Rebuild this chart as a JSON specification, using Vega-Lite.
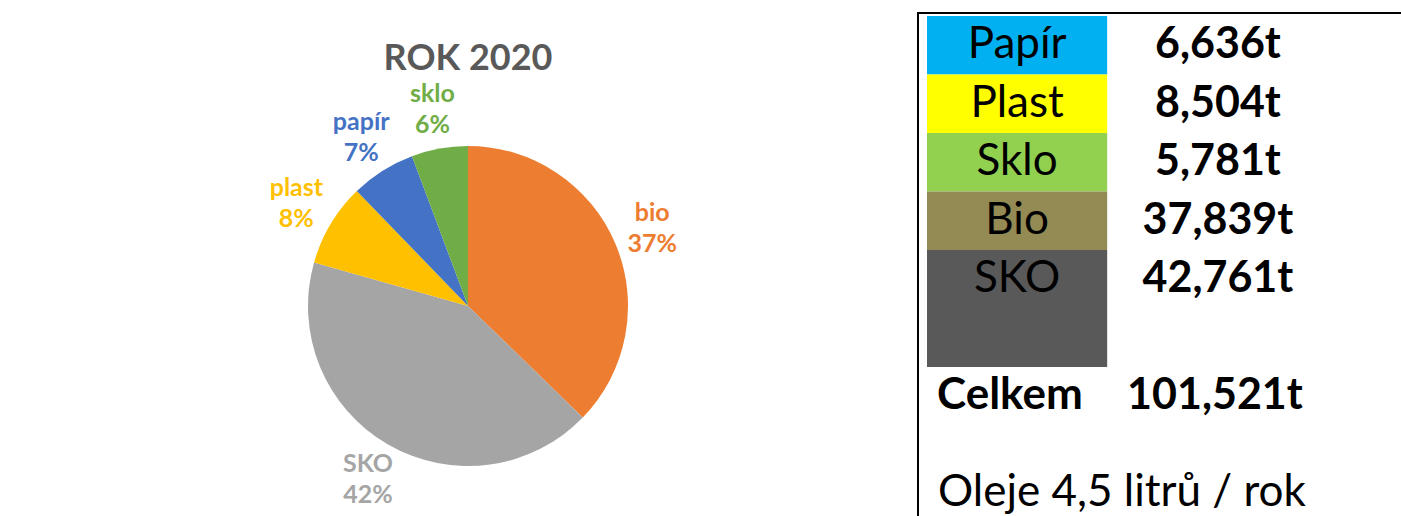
{
  "$schema": "https://vega.github.io/schema/vega-lite/v6.json",
  "padding": {"left": 19, "top": 12, "right": 0, "bottom": 0},
  "background": "white",
  "spacing": 0,
  "config": {
    "view": {"stroke": null},
    "font": "Lato",
    "locale": {"number": {"decimal": ",", "thousands": " ", "grouping": [3], "currency": ["", "t"]}}
  },
  "resolve": {"scale": {"color": "independent", "x": "independent", "y": "independent"}},
  "hconcat": [
    {
      "vconcat": [
        {
          "width": 898,
          "height": 82,
          "data": {"values": [{"nazev": "ROK 2020"}]},
          "mark": {"type": "text", "fontSize": 36, "fontWeight": "bold", "color": "#595959", "baseline": "middle", "dy": 5},
          "encoding": {"text": {"field": "nazev", "type": "nominal"}}
        },
        {
          "width": 898,
          "height": 422,
          "data": {
            "values": [
              {"druh": "bio", "tuny": 37.839, "podil": 0.37, "poradi": 1},
              {"druh": "SKO", "tuny": 42.761, "podil": 0.42, "poradi": 2},
              {"druh": "plast", "tuny": 8.504, "podil": 0.08, "poradi": 3},
              {"druh": "papír", "tuny": 6.636, "podil": 0.07, "poradi": 4},
              {"druh": "sklo", "tuny": 5.781, "podil": 0.06, "poradi": 5}
            ]
          },
          "encoding": {
            "theta": {"field": "tuny", "type": "quantitative", "stack": true},
            "order": {"field": "poradi", "type": "quantitative"},
            "color": {
              "field": "druh",
              "type": "nominal",
              "scale": {
                "domain": ["bio", "SKO", "plast", "papír", "sklo"],
                "range": ["#ED7D31", "#A5A5A5", "#FFC000", "#4472C4", "#70AD47"]
              },
              "legend": null
            }
          },
          "layer": [
            {"mark": {"type": "arc", "outerRadius": 160}},
            {
              "mark": {"type": "text", "radius": 200, "dy": -15, "fontSize": 25, "fontWeight": "bold", "baseline": "middle"},
              "encoding": {"text": {"field": "druh", "type": "nominal"}}
            },
            {
              "mark": {"type": "text", "radius": 200, "dy": 16, "fontSize": 25, "fontWeight": "bold", "baseline": "middle"},
              "encoding": {"text": {"field": "podil", "type": "quantitative", "format": ".0%"}}
            }
          ]
        }
      ],
      "spacing": 0,
      "bounds": "flush"
    },
    {
      "width": 484,
      "height": 504,
      "view": {"stroke": "black", "strokeWidth": 2},
      "data": {
        "values": [
          {"druh": "Papír", "tuny": 6.636, "radek": 0, "konec": 1},
          {"druh": "Plast", "tuny": 8.504, "radek": 1, "konec": 2},
          {"druh": "Sklo", "tuny": 5.781, "radek": 2, "konec": 3},
          {"druh": "Bio", "tuny": 37.839, "radek": 3, "konec": 4},
          {"druh": "SKO", "tuny": 42.761, "radek": 4, "konec": 6}
        ]
      },
      "layer": [
        {
          "mark": {"type": "rect"},
          "encoding": {
            "x": {
              "datum": "druh",
              "type": "nominal",
              "scale": {"type": "band", "domain": ["druh", "množství"], "range": [9, 393], "paddingInner": 0.116, "paddingOuter": 0},
              "axis": null
            },
            "y": {
              "field": "radek",
              "type": "quantitative",
              "scale": {"domain": [-0.0513, 8.564], "reverse": true, "nice": false, "zero": false},
              "axis": null
            },
            "y2": {"field": "konec"},
            "color": {
              "field": "druh",
              "type": "nominal",
              "scale": {
                "domain": ["Papír", "Plast", "Sklo", "Bio", "SKO"],
                "range": ["#00B0F0", "#FFFF00", "#92D050", "#948A54", "#595959"]
              },
              "legend": null
            }
          }
        },
        {
          "mark": {"type": "text", "fontSize": 44, "color": "black", "baseline": "middle", "dy": 29},
          "encoding": {
            "x": {"datum": "druh", "type": "nominal", "axis": null},
            "y": {"field": "radek", "type": "quantitative", "axis": null},
            "text": {"field": "druh", "type": "nominal"}
          }
        },
        {
          "mark": {"type": "text", "fontSize": 43, "fontWeight": "bold", "color": "black", "baseline": "middle", "dy": 29, "dx": -3},
          "encoding": {
            "x": {"datum": "množství", "type": "nominal", "axis": null},
            "y": {"field": "radek", "type": "quantitative", "axis": null},
            "text": {"field": "tuny", "type": "quantitative", "format": "$.3f"}
          }
        },
        {
          "transform": [{"aggregate": [{"op": "sum", "field": "tuny", "as": "celkem"}]}],
          "mark": {"type": "text", "fontSize": 43, "fontWeight": "bold", "color": "black", "baseline": "middle", "dy": 29, "dx": -6},
          "encoding": {
            "x": {"datum": "množství", "type": "nominal", "axis": null},
            "y": {"datum": 6, "type": "quantitative", "axis": null},
            "text": {"field": "celkem", "type": "quantitative", "format": "$.3f"}
          }
        },
        {
          "data": {"values": [{"popis": "Celkem"}]},
          "mark": {"type": "text", "fontSize": 44, "fontWeight": "bold", "color": "black", "align": "left", "baseline": "middle", "dy": 29, "dx": 10},
          "encoding": {
            "x": {"datum": "druh", "type": "nominal", "bandPosition": 0, "axis": null},
            "y": {"datum": 6, "type": "quantitative", "axis": null},
            "text": {"field": "popis", "type": "nominal"}
          }
        },
        {
          "data": {"values": [{"popis": "Oleje 4,5 litrů / rok"}]},
          "mark": {"type": "text", "fontSize": 44, "color": "black", "align": "left", "baseline": "middle", "dy": 9, "dx": 11},
          "encoding": {
            "x": {"datum": "druh", "type": "nominal", "bandPosition": 0, "axis": null},
            "y": {"datum": 8, "type": "quantitative", "axis": null},
            "text": {"field": "popis", "type": "nominal"}
          }
        }
      ]
    }
  ]
}
